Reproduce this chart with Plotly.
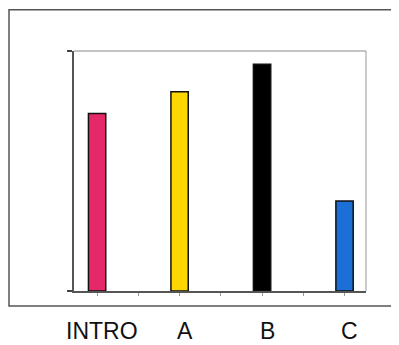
import plotly.graph_objects as go

# category slots along the x axis (bars sit on every other slot)
slots = [0, 1, 2, 3, 4, 5, 6]
labels = ["INTRO", "A", "B", "C"]
label_pos = [0, 2, 4, 6]
values = [74, 83, 94.5, 37.5]
colors = ["#E5286A", "#FFD700", "#000000", "#1B6FD6"]

fig = go.Figure()
fig.add_trace(go.Bar(
    x=label_pos, y=values, width=0.42,
    marker=dict(color=colors, line=dict(color="#111111", width=1.5)),
    hoverinfo="skip",
))

# category names under the outer frame
for pos, lab in zip(label_pos, labels):
    fig.add_annotation(x=pos, y=-0.229, xref="x", yref="paper", text=lab,
                       showarrow=False, xshift=5,
                       font=dict(family="Liberation Sans, Arial", size=23, color="#111111"))

# outer frame around the chart
fig.add_shape(type="rect", xref="paper", yref="paper",
              x0=-0.2226, x1=1.2, y0=-0.0625, y1=1.172,
              line=dict(color="#555555", width=1.5))

# light top/right edges of the plot box
fig.add_shape(type="line", xref="paper", yref="paper", x0=0, x1=1, y0=1, y1=1,
              line=dict(color="#8a8a8a", width=1.2))
fig.add_shape(type="line", xref="paper", yref="paper", x0=1, x1=1, y0=0, y1=1,
              line=dict(color="#aaaaaa", width=1.2))

fig.update_xaxes(range=[-0.56, 6.52], tickvals=slots, ticktext=[""] * len(slots),
                 ticks="outside", ticklen=3, tickwidth=1, tickcolor="#999999",
                 showline=True, linecolor="#555555", linewidth=1.5,
                 showgrid=False, zeroline=False)
fig.update_yaxes(range=[0, 100], tickvals=[0, 100], ticktext=["", ""],
                 ticks="outside", ticklen=5, tickwidth=1.5, tickcolor="#444444",
                 showline=True, linecolor="#555555", linewidth=1.5,
                 showgrid=False, zeroline=False)

# page body adds an 8px margin, so the figure is a bit smaller than the window
fig.update_layout(
    width=391, height=337,
    margin=dict(l=66, r=33, t=43, b=54),
    plot_bgcolor="white", paper_bgcolor="white",
    showlegend=False,
)

fig.write_html("out.html")
